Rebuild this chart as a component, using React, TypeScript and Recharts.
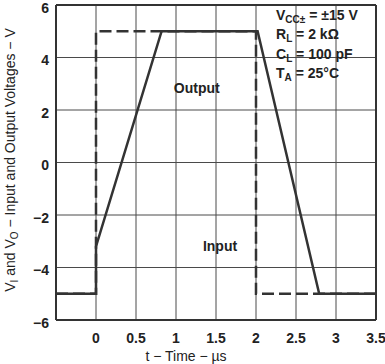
import { LineChart, Line, XAxis, YAxis, CartesianGrid, ReferenceLine, ReferenceDot, Customized } from "recharts";

// input step and output response (µs, V)
const inputTime = [-0.5, 0, 0, 2, 2, 3.5];
const inputVolts = [-5, -5, 5, 5, -5, -5];
const outputTime = [-0.5, 0, 0, 0.82, 2.02, 2.79, 3.5];
const outputVolts = [-5, -5, -3.2, 5, 5, -5, -5];

const xTicks = [0, 0.5, 1, 1.5, 2, 2.5, 3, 3.5];
const yTicks = [-6, -4, -2, 0, 2, 4, 6];

const inputData = inputTime.map((t, i) => ({ t, v: inputVolts[i] }));
const outputData = outputTime.map((t, i) => ({ t, v: outputVolts[i] }));

const FONT = '"Liberation Sans", Arial, Helvetica, sans-serif';
const INK = "#333";
const GRID = "#4a4a4a";

const xTickStyle = { fill: "#222", fontSize: 14, fontWeight: 700, fontFamily: FONT };
const yTickStyle = { ...xTickStyle, dy: 3 };

function Annotations() {
  return (
    <g fontFamily={FONT} fill="#222">
      {/* test conditions box */}
      <g fontSize={14} fontWeight={700}>
        <text x={276} y={19.5}>
          V<tspan fontSize={10} dy={3}>CC±</tspan>
          <tspan dy={-3}> = ±15 V</tspan>
        </text>
        <text x={276} y={39}>
          R<tspan fontSize={10} dy={3}>L</tspan>
          <tspan dy={-3}> = 2 kΩ</tspan>
        </text>
        <text x={276} y={58.5}>
          C<tspan fontSize={10} dy={3}>L</tspan>
          <tspan dy={-3}> = 100 pF</tspan>
        </text>
        <text x={276} y={78}>
          T<tspan fontSize={10} dy={3}>A</tspan>
          <tspan dy={-3}> = 25°C</tspan>
        </text>
      </g>
      {/* axis titles */}
      <text x={186} y={361} fontSize={14} textAnchor="middle">
        t − Time − µs
      </text>
      <text x={15} y={160} fontSize={14} textAnchor="middle" transform="rotate(-90 15 160)">
        V<tspan fontSize={10} dy={3}>I</tspan>
        <tspan dy={-3}> and V</tspan>
        <tspan fontSize={10} dy={3}>O</tspan>
        <tspan dy={-3}> − Input and Output Voltages − V</tspan>
      </text>
    </g>
  );
}

const seriesLabel = (value: string) => ({
  value,
  position: "center" as const,
  fill: "#222",
  fontSize: 14,
  fontWeight: 700,
  fontFamily: FONT,
});

export default function App() {
  return (
    <div style={{ position: "absolute", left: 0, top: 0, background: "#fff" }}>
      <LineChart width={385} height={364} margin={{ top: 5, right: 9, left: 0, bottom: 0 }}>
        <CartesianGrid stroke={GRID} strokeWidth={1} />
        <XAxis
          dataKey="t"
          type="number"
          domain={[-0.5, 3.5]}
          ticks={xTicks}
          height={44}
          tickLine={false}
          tickSize={8}
          tickMargin={5}
          axisLine={{ stroke: INK, strokeWidth: 2 }}
          tick={xTickStyle}
          interval={0}
        />
        <YAxis
          type="number"
          domain={[-6, 6]}
          ticks={yTicks}
          width={56}
          tickLine={false}
          tickSize={5}
          tickMargin={2}
          axisLine={{ stroke: INK, strokeWidth: 2 }}
          tick={yTickStyle}
          interval={0}
          tickFormatter={(v: number) => (v < 0 ? `−${-v}` : `${v}`)}
        />
        {/* frame */}
        <ReferenceLine y={6} stroke={INK} strokeWidth={2} />
        <ReferenceLine x={3.5} stroke={INK} strokeWidth={2} />
        <Line
          data={inputData}
          dataKey="v"
          type="linear"
          stroke={INK}
          strokeWidth={2.5}
          strokeDasharray="12 5"
          dot={false}
          isAnimationActive={false}
        />
        <Line
          data={outputData}
          dataKey="v"
          type="linear"
          stroke={INK}
          strokeWidth={2.5}
          dot={false}
          isAnimationActive={false}
        />
        <ReferenceDot x={1.26} y={2.85} r={1} fill="none" stroke="none" label={seriesLabel("Output")} />
        <ReferenceDot x={1.55} y={-3.2} r={1} fill="none" stroke="none" label={seriesLabel("Input")} />
        <Customized component={<Annotations />} />
      </LineChart>
    </div>
  );
}
